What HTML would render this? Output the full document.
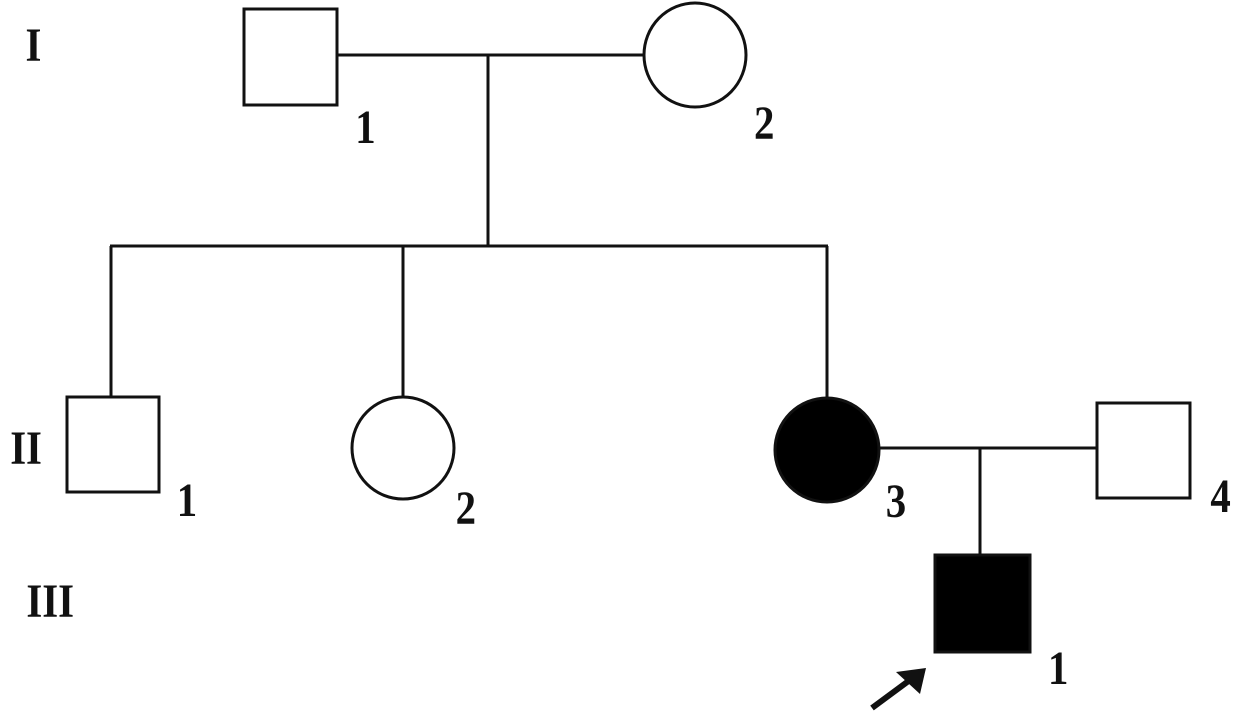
<!DOCTYPE html>
<html><head><meta charset="utf-8"><style>
html,body{margin:0;padding:0;background:#fff;}
svg{display:block;}
text{font-family:"Liberation Serif",serif;font-size:48px;font-weight:bold;fill:#111;}
</style></head><body>
<svg width="1236" height="714" viewBox="0 0 1236 714" xmlns="http://www.w3.org/2000/svg">
<g stroke="#111" stroke-width="3" fill="none">
<rect x="244" y="9" width="93" height="96" fill="#fff"/>
<ellipse cx="695" cy="55" rx="51" ry="52" fill="#fff"/>
<line x1="337" y1="55" x2="644" y2="55"/>
<line x1="488" y1="55" x2="488" y2="246"/>
<line x1="110" y1="246" x2="828" y2="246"/>
<line x1="111" y1="246" x2="111" y2="397"/>
<line x1="403" y1="246" x2="403" y2="397"/>
<line x1="827" y1="246" x2="827" y2="398"/>
<rect x="67" y="397" width="92" height="95" fill="#fff"/>
<circle cx="403" cy="448" r="51" fill="#fff"/>
<circle cx="827" cy="450" r="52" fill="#000"/>
<line x1="879" y1="448" x2="1097" y2="448"/>
<rect x="1097" y="403" width="93" height="95" fill="#fff"/>
<line x1="980" y1="448" x2="980" y2="555"/>
<rect x="935" y="555" width="95" height="97" fill="#000"/>
</g>
<g stroke="#111" stroke-width="6" fill="none">
<line x1="872" y1="708" x2="918" y2="674"/>
</g>
<polygon points="926,668 896,672 920,694" fill="#111"/>
<g transform="scale(0.85,1)">
<text x="30" y="61">I</text>
<text x="12" y="464">II</text>
<text x="31" y="617">III</text>
<text x="418" y="143">1</text>
<text x="887" y="139">2</text>
<text x="208" y="516">1</text>
<text x="536" y="524">2</text>
<text x="1042" y="517">3</text>
<text x="1424" y="512">4</text>
<text x="1233" y="684">1</text>
</g>
</svg>
</body></html>
